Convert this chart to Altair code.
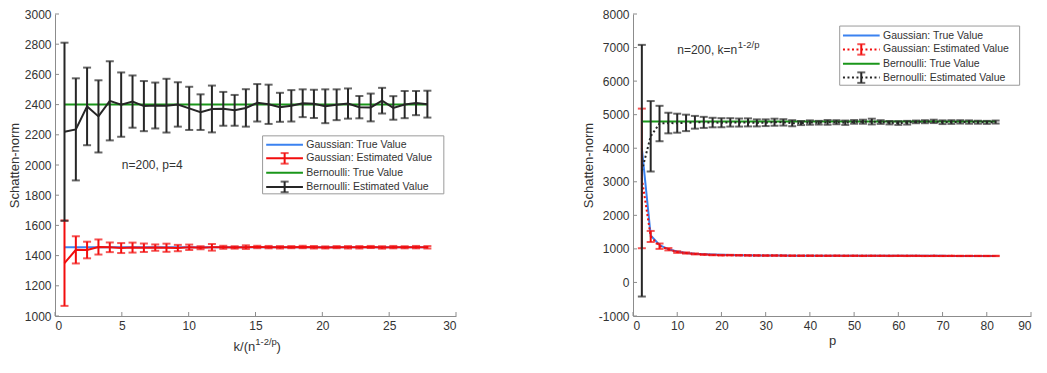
import altair as alt
import pandas as pd

FONT = "Liberation Sans"
TXT = "#333333"
AX = "#8c8c8c"
BLUE = "#3b82f0"
RED = "#f20d0d"
GREEN = "#1a961a"
BLACK = "#262626"

# ---------------- left panel data (n=200, p=4) ----------------
LEFT_X = [0.71, 1.56, 2.40, 3.25, 4.10, 4.95, 5.80, 6.65, 7.50, 8.34, 9.19, 10.04, 10.89,
          11.74, 12.59, 13.44, 14.28, 15.13, 15.98, 16.83, 17.68, 18.53, 19.37, 20.22,
          21.07, 21.92, 22.77, 23.62, 24.47, 25.31, 26.16, 27.01, 27.86]
LEFT_GAUSS_TRUE = 1455
LEFT_BERN_TRUE = 2400
LEFT_GAUSS_EST = [1350, 1438, 1437, 1457, 1455, 1450, 1453, 1452, 1453, 1452, 1450, 1455, 1452,
                  1455, 1455, 1454, 1456, 1457, 1456, 1455, 1456, 1457, 1455, 1454, 1456, 1455,
                  1455, 1457, 1454, 1456, 1455, 1456, 1455]
LEFT_GAUSS_ERR = [283, 90, 55, 50, 32, 33, 33, 28, 21, 27, 21, 18, 10, 22, 10, 8, 12, 8, 8, 8,
                  7, 8, 8, 7, 7, 8, 8, 7, 8, 8, 7, 8, 8]
LEFT_BERN_EST = [2220, 2236, 2388, 2322, 2425, 2400, 2420, 2390, 2394, 2393, 2401, 2375, 2350,
                 2371, 2372, 2362, 2378, 2412, 2402, 2382, 2392, 2409, 2405, 2389, 2399, 2407,
                 2383, 2381, 2426, 2378, 2400, 2410, 2403]
LEFT_BERN_ERR = [590, 338, 257, 239, 262, 213, 173, 166, 152, 178, 147, 143, 118, 155, 112, 102,
                 124, 124, 130, 96, 104, 92, 94, 112, 102, 100, 74, 92, 85, 78, 90, 80, 89]
LEFT_XTICKS = [0, 5, 10, 15, 20, 25, 30]
LEFT_YTICKS = [1000, 1200, 1400, 1600, 1800, 2000, 2200, 2400, 2600, 2800, 3000]

# ---------------- right panel data (n=200, k=n^(1-2/p)) ----------------
RIGHT_P = [2, 4, 6, 8, 10, 12, 14, 16, 18, 20, 22, 24, 26, 28, 30, 32, 34, 36, 38, 40, 42,
           44, 46, 48, 50, 52, 54, 56, 58, 60, 62, 64, 66, 68, 70, 72, 74, 76, 78, 80, 82]
RIGHT_GAUSS_TRUE = [4000, 1400, 1115, 990, 920, 880, 855, 840, 830, 822, 816, 812, 808, 805,
                    803, 801, 800, 799, 798, 797, 797, 796, 796, 795, 795, 794, 794, 794, 793,
                    793, 793, 792, 792, 792, 792, 791, 791, 791, 791, 790, 790]
RIGHT_GAUSS_EST = [3100, 1370, 1080, 990, 905, 877, 850, 832, 820, 812, 814, 810, 806, 805,
                   801, 802, 799, 798, 797, 798, 796, 795, 797, 794, 796, 793, 795, 794, 792,
                   794, 792, 793, 791, 792, 791, 792, 790, 791, 790, 789, 790]
RIGHT_GAUSS_ERR = [2080, 165, 80, 35, 25, 18, 15, 12, 10, 10, 9, 9, 8, 8, 8, 8, 8, 7, 7, 7,
                   7, 7, 7, 7, 7, 6, 6, 6, 6, 6, 6, 6, 6, 6, 6, 6, 6, 6, 6, 6, 6]
RIGHT_BERN_TRUE = 4800
RIGHT_BERN_EST = [3330, 4356, 4736, 4750, 4746, 4755, 4773, 4770, 4765, 4760, 4770, 4765, 4770,
                  4755, 4760, 4775, 4770, 4745, 4750, 4765, 4760, 4770, 4775, 4760, 4785, 4790,
                  4795, 4780, 4760, 4750, 4760, 4785, 4790, 4800, 4775, 4780, 4785, 4780, 4775,
                  4770, 4780]
RIGHT_BERN_ERR = [3750, 1050, 528, 307, 283, 245, 190, 165, 142, 135, 125, 120, 120, 105, 100,
                  105, 95, 90, 60, 65, 55, 70, 60, 65, 55, 60, 85, 55, 50, 55, 55, 40, 45, 50,
                  55, 55, 50, 50, 45, 45, 45]
RIGHT_XTICKS = [0, 10, 20, 30, 40, 50, 60, 70, 80, 90]
RIGHT_YTICKS = [-1000, 0, 1000, 2000, 3000, 4000, 5000, 6000, 7000, 8000]

LEGEND_LABELS = ["Gaussian: True Value", "Gaussian: Estimated Value",
                 "Bernoulli: True Value", "Bernoulli: Estimated Value"]

H = 302
DOT = [2, 2.5]


def panel(cfg):
    W = cfg["width"]
    xs = alt.Scale(domain=cfg["xdom"], nice=False, zero=False)
    ys = alt.Scale(domain=cfg["ydom"], nice=False, zero=False)
    common = dict(ticks=False, grid=False, labelFontSize=12, labelColor=TXT, labelFont=FONT,
                  domainColor=AX, domainWidth=1,
                  titleFont=FONT, titleFontSize=13, titleFontWeight="normal", titleColor=TXT)
    xaxis = alt.Axis(values=cfg["xticks"], labelPadding=4, title=cfg["xtitle"], titlePadding=3,
                     format="d", **common)
    yaxis = alt.Axis(values=cfg["yticks"], labelPadding=4, title="Schatten-norm",
                     titlePadding=3, labelExpr="'' + datum.value", **common)

    def X(f):
        return alt.X(f, type="quantitative", scale=xs, axis=xaxis)

    def Y(f):
        return alt.Y(f, type="quantitative", scale=ys, axis=yaxis)

    layers = []
    # inside tick marks
    xt = pd.DataFrame({"v": cfg["xticks"]})
    yt = pd.DataFrame({"v": cfg["yticks"]})
    layers.append(alt.Chart(xt).mark_rule(color=AX, strokeWidth=1).encode(
        x=X("v"), y=alt.value(H), y2=alt.value(H - 4)))
    layers.append(alt.Chart(yt).mark_rule(color=AX, strokeWidth=1).encode(
        y=Y("v"), x=alt.value(0), x2=alt.value(4)))

    x = cfg["x"]
    df = pd.DataFrame({
        "x": x,
        "g": cfg["gest"],
        "glo": [a - b for a, b in zip(cfg["gest"], cfg["gerr"])],
        "ghi": [a + b for a, b in zip(cfg["gest"], cfg["gerr"])],
        "b": cfg["best"],
        "blo": [a - b for a, b in zip(cfg["best"], cfg["berr"])],
        "bhi": [a + b for a, b in zip(cfg["best"], cfg["berr"])],
    })
    dash = {"strokeDash": DOT} if cfg["dotted"] else {}

    # Gaussian true
    if isinstance(cfg["gtrue"], list):
        gt = pd.DataFrame({"x": x, "t": cfg["gtrue"]})
        layers.append(alt.Chart(gt).mark_line(color=BLUE, strokeWidth=2).encode(
            x=X("x"), y=Y("t")))
    else:
        gt = pd.DataFrame({"x0": [x[0]], "x1": [x[-1]], "t": [cfg["gtrue"]]})
        layers.append(alt.Chart(gt).mark_rule(color=BLUE, strokeWidth=2).encode(
            x=X("x0"), x2="x1", y=Y("t")))

    def est_layers(col, color):
        out = []
        out.append(alt.Chart(df).mark_line(color=color, strokeWidth=2, **dash).encode(
            x=X("x"), y=Y(col)))
        out.append(alt.Chart(df).mark_rule(color=color, strokeWidth=2).encode(
            x=X("x"), y=Y(col + "lo"), y2=col + "hi"))
        for c in (col + "lo", col + "hi"):
            out.append(alt.Chart(df).mark_tick(color=color, orient="horizontal", size=8,
                                               thickness=2).encode(x=X("x"), y=Y(c)))
        return out

    layers += est_layers("g", RED)
    bt = pd.DataFrame({"x0": [x[0]], "x1": [x[-1]], "t": [cfg["btrue"]]})
    layers.append(alt.Chart(bt).mark_rule(color=GREEN, strokeWidth=2).encode(
        x=X("x0"), x2="x1", y=Y("t")))
    layers += est_layers("b", BLACK)

    # legend
    lg = cfg["legend"]
    box = pd.DataFrame({"x0": [lg["box"][0]], "x1": [lg["box"][1]],
                        "y0": [lg["box"][2]], "y1": [lg["box"][3]]})
    layers.append(alt.Chart(box).mark_rect(fill="white", stroke="#9a9a9a", strokeWidth=1).encode(
        x=X("x0"), x2="x1", y=Y("y0"), y2="y1"))
    colors = [BLUE, RED, GREEN, BLACK]
    for i, lab in enumerate(LEGEND_LABELS):
        yv = lg["rows"][i]
        is_est = i in (1, 3)
        d = DOT if (cfg["dotted"] and is_est) else None
        seg = pd.DataFrame({"x0": [lg["line"][0]], "x1": [lg["line"][1]], "y": [yv],
                            "lo": [yv - lg["eh"]], "hi": [yv + lg["eh"]], "ex": [lg["ex"]],
                            "tx": [lg["tx"]], "label": [lab]})
        kw = {"strokeDash": d} if d else {}
        layers.append(alt.Chart(seg).mark_rule(color=colors[i], strokeWidth=2, **kw).encode(
            x=X("x0"), x2="x1", y=Y("y")))
        if is_est:
            layers.append(alt.Chart(seg).mark_rule(color=colors[i], strokeWidth=2).encode(
                x=X("ex"), y=Y("lo"), y2="hi"))
            for c in ("lo", "hi"):
                layers.append(alt.Chart(seg).mark_tick(color=colors[i], orient="horizontal",
                                                       size=8, thickness=2).encode(
                    x=X("ex"), y=Y(c)))
        layers.append(alt.Chart(seg).mark_text(font=FONT, fontSize=10.5, color=TXT, align="left",
                                               baseline="middle").encode(
            x=X("tx"), y=Y("y"), text="label:N"))

    # annotation
    for part in cfg["note"]:
        nd = pd.DataFrame({"x": [part[1]], "y": [part[2]], "t": [part[0]]})
        layers.append(alt.Chart(nd).mark_text(font=FONT, fontSize=part[3], color=TXT,
                                              align="left", baseline="middle").encode(
            x=X("x"), y=Y("y"), text="t:N"))

    # composite x title
    for part in cfg.get("xtitle_parts", []):
        td = pd.DataFrame({"x": [part[1]], "t": [part[0]]})
        layers.append(alt.Chart(td).mark_text(font=FONT, fontSize=part[3], color=TXT,
                                              align=part[4], baseline="middle").encode(
            x=X("x"), y=alt.value(H + part[2]), text="t:N"))

    return alt.layer(*layers).properties(width=W, height=H)


left_cfg = dict(
    width=401, xdom=[0, 30], ydom=[1000, 3000], xticks=LEFT_XTICKS, yticks=LEFT_YTICKS,
    xtitle=None, x=LEFT_X, gest=LEFT_GAUSS_EST, gerr=LEFT_GAUSS_ERR, gtrue=LEFT_GAUSS_TRUE,
    best=LEFT_BERN_EST, berr=LEFT_BERN_ERR, btrue=LEFT_BERN_TRUE, dotted=False,
    legend=dict(box=[15.53, 29.09, 2193, 1809], rows=[2134, 2044, 1948, 1855],
                line=[15.80, 18.55], ex=17.18, eh=35, tx=18.80),
    note=[("n=200, p=4", 5.0, 1998, 12)],
    xtitle_parts=[("k/(n", 14.98, 31, 13, "right"), ("1-2/p", 14.98, 26, 9.5, "left"),
                  (")", 16.57, 31, 13, "left")],
)

right_cfg = dict(
    width=398, xdom=[0, 90], ydom=[-1000, 8000], xticks=RIGHT_XTICKS, yticks=RIGHT_YTICKS,
    xtitle="p", x=RIGHT_P, gest=RIGHT_GAUSS_EST, gerr=RIGHT_GAUSS_ERR, gtrue=RIGHT_GAUSS_TRUE,
    best=RIGHT_BERN_EST, berr=RIGHT_BERN_ERR, btrue=RIGHT_BERN_TRUE, dotted=True,
    legend=dict(box=[46.74, 87.43, 7641, 5877], rows=[7358, 6944, 6520, 6104],
                line=[47.48, 55.78], ex=51.62, eh=156, tx=56.53),
    note=[("n=200, k=n", 10.0, 6925, 12), ("1-2/p", 23.7, 7070, 9.5)],
)

chart = alt.hconcat(panel(left_cfg), panel(right_cfg), spacing=125).properties(
    padding={"left": 0, "top": 0, "right": 0, "bottom": 0},
    background="white",
).configure_view(stroke=None)

chart.save("out.html", embed_options={"renderer": "svg", "actions": False})
